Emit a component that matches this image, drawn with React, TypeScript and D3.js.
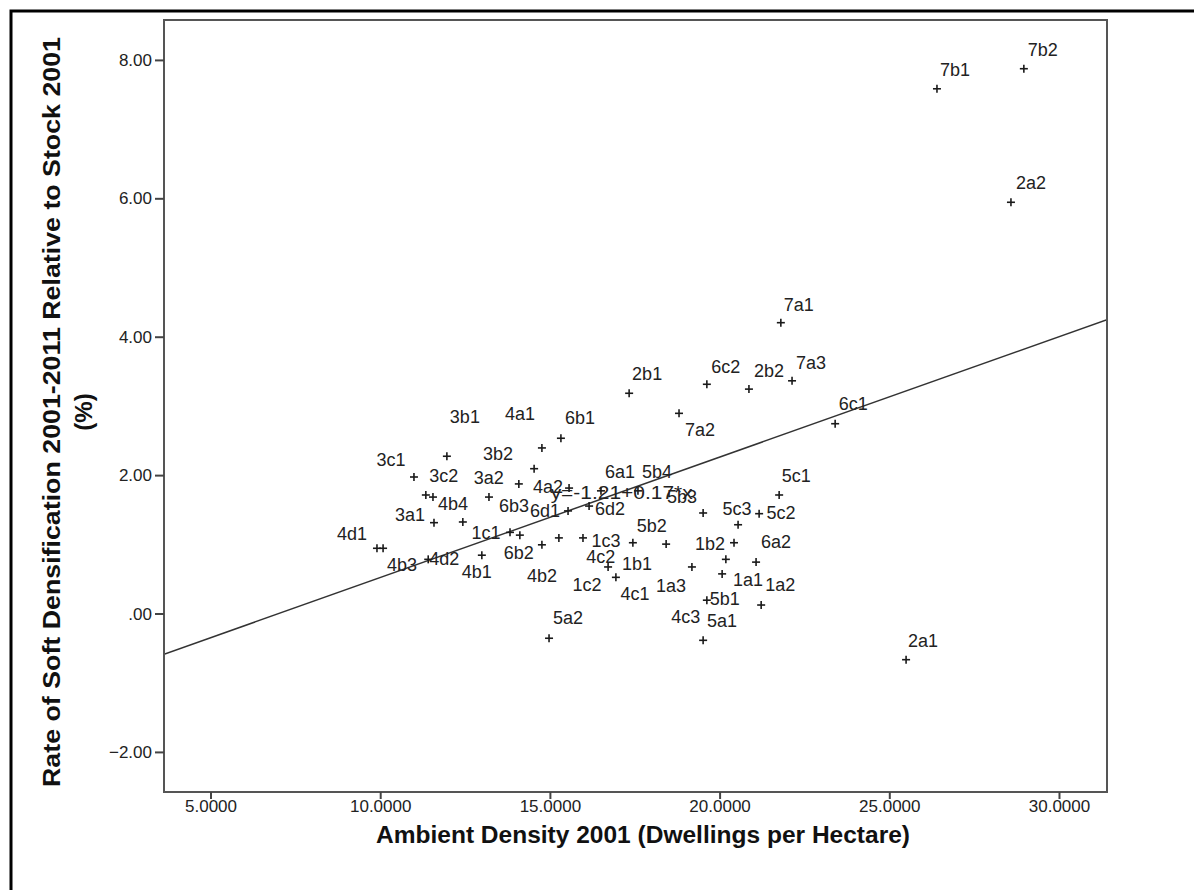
import React from "react";
import * as d3 from "d3";

// ---- data ----
const pointLabels = [
  "7b2", "7b1", "2a2", "7a1", "2b1", "6c2", "2b2", "7a3", "7a2", "6c1",
  "6b1", "4a1", "3b1", "3b2", "3c1", "3a2", "4a2", "3c2", "4b4", "6b3",
  "6d1", "3a1", "", "4d1", "4b3", "1c1", "6b2", "4c2", "4d2", "4b1",
  "4b2", "5a2", "6a1", "5b4", "6d2", "5b3", "5c2", "5c3", "5c1", "1c3",
  "5b2", "1b1", "1b2", "4c3", "6a2", "1a3", "1c2", "4c1", "1a1", "5b1",
  "1a2", "5a1", "2a1",
];
const ambientDensity = [
  28.95, 26.39, 28.57, 21.79, 17.32, 19.61, 20.85, 22.12, 18.79, 23.39,
  15.31, 14.75, 11.95, 14.52, 10.98, 14.07, 15.55, 11.33, 11.54, 13.19,
  15.52, 11.57, 12.42, 9.89, 10.07, 13.81, 14.10, 15.25, 11.40, 12.98,
  14.75, 14.96, 16.49, 17.58, 16.14, 19.50, 21.15, 20.53, 21.74, 15.96,
  17.43, 18.41, 20.41, 20.17, 21.06, 19.17, 16.70, 16.93, 20.06, 19.61,
  21.21, 19.50, 25.48,
];
const softDensification = [
  7.88, 7.59, 5.95, 4.21, 3.19, 3.32, 3.25, 3.37, 2.90, 2.75,
  2.54, 2.40, 2.28, 2.10, 1.98, 1.88, 1.82, 1.72, 1.69, 1.69,
  1.49, 1.32, 1.33, 0.95, 0.95, 1.18, 1.14, 1.10, 0.79, 0.85,
  1.00, -0.35, 1.78, 1.78, 1.56, 1.46, 1.45, 1.29, 1.72, 1.10,
  1.03, 1.01, 1.03, 0.79, 0.75, 0.68, 0.68, 0.53, 0.58, 0.20,
  0.13, -0.38, -0.66,
];
const xTicks = [5, 10, 15, 20, 25, 30];
const yTicks = [-2, 0, 2, 4, 6, 8];
const fitIntercept = -1.21;
const fitSlope = 0.174;
const fitLabel = "y=-1.21+0.17*x";
const xTitle = "Ambient Density 2001 (Dwellings per Hectare)";
const yTitle1 = "Rate of Soft Densification 2001-2011 Relative to Stock 2001";
const yTitle2 = "(%)";

// ---- label layout (pixel offsets of label centre from its point) ----
const labelOffsets: [number, number][] = [
  [19, -19], [18, -19], [20, -19], [18, -18], [18, -19], [19, -17], [20, -18], [19, -18], [21, 17], [18, -20],
  [19, -20], [-22, -34], [18, -39], [-36, -15], [-23, -17], [-30, -6], [-21, -1], [18, -19], [20, 7], [25, 9],
  [-23, 0], [-24, -8], [0, 0], [-25, -14], [19, 17], [-24, 1], [-1, 18], [42, 19], [16, 0], [-5, 17],
  [0, 31], [19, -20], [19, -19], [19, -19], [21, 3], [-21, -16], [22, -1], [-1, -16], [17, -19], [23, 3],
  [19, -17], [-29, 20], [-24, 1], [-40, 58], [20, -20], [-21, 19], [-21, 18], [19, 17], [26, 6], [18, -1],
  [19, -20], [19, -19], [17, -19],
];

const W = 1194;
const H = 890;
const plot = { left: 164, right: 1107, top: 20, bottom: 792 };
const FONT = "'Liberation Sans', Arial, sans-serif";

export default function App() {
  const x = d3.scaleLinear().domain([3.615, 31.4]).range([plot.left, plot.right]);
  const y = d3.scaleLinear().domain([-2.572, 8.584]).range([plot.bottom, plot.top]);
  const [x0, x1] = x.domain();
  const line = d3.line<number>().x((d) => x(d)).y((d) => y(fitIntercept + fitSlope * d));
  const fitPath = line([x0, x1]) || "";
  const cross = 4;

  return (
    <svg
      width={W}
      height={H}
      style={{ position: "absolute", left: 0, top: 0, background: "#fff" }}
      fontFamily={FONT}
    >
      <rect x={0} y={0} width={W} height={H} fill="#fff" />
      {/* outer frame (left + top only, cropped) */}
      <path d={`M11,${H} V11 H${W}`} fill="none" stroke="#000" strokeWidth={3} />

      <defs>
        <clipPath id="plotClip">
          <rect x={plot.left} y={plot.top} width={plot.right - plot.left} height={plot.bottom - plot.top} />
        </clipPath>
      </defs>

      {/* regression line */}
      <path d={fitPath} fill="none" stroke="#333" strokeWidth={1.5} clipPath="url(#plotClip)" />

      {/* points */}
      {ambientDensity.map((dx, i) => {
        const px = x(dx);
        const py = y(softDensification[i]);
        return (
          <g key={"p" + i} stroke="#1a1a1a" strokeWidth={1.6}>
            <line x1={px - cross} x2={px + cross} y1={py} y2={py} />
            <line x1={px} x2={px} y1={py - cross} y2={py + cross} />
          </g>
        );
      })}

      {/* point labels */}
      {ambientDensity.map((dx, i) => {
        if (!pointLabels[i]) return null;
        const px = x(dx) + labelOffsets[i][0];
        const py = y(softDensification[i]) + labelOffsets[i][1];
        return (
          <text
            key={"l" + i}
            x={px}
            y={py}
            textAnchor="middle"
            dominantBaseline="central"
            fontSize={18}
            fill="#222"
          >
            {pointLabels[i]}
          </text>
        );
      })}

      {/* fit label */}
      <text
        x={x(17.1)}
        y={y(1.75)}
        textAnchor="middle"
        dominantBaseline="central"
        fontSize={18}
        fill="#222"
        textLength={142}
        lengthAdjust="spacingAndGlyphs"
      >
        {fitLabel}
      </text>

      {/* plot frame */}
      <rect
        x={plot.left}
        y={plot.top}
        width={plot.right - plot.left}
        height={plot.bottom - plot.top}
        fill="none"
        stroke="#555"
        strokeWidth={2}
      />

      {/* x axis ticks */}
      {xTicks.map((t) => (
        <g key={"xt" + t}>
          <line x1={x(t)} x2={x(t)} y1={plot.bottom} y2={plot.bottom + 7} stroke="#444" strokeWidth={2} />
          <text x={x(t)} y={806} textAnchor="middle" dominantBaseline="central" fontSize={17} fill="#222">
            {d3.format(".4f")(t)}
          </text>
        </g>
      ))}

      {/* y axis ticks */}
      {yTicks.map((t) => (
        <g key={"yt" + t}>
          <line x1={plot.left - 9} x2={plot.left} y1={y(t)} y2={y(t)} stroke="#444" strokeWidth={2} />
          <text x={152} y={y(t)} textAnchor="end" dominantBaseline="central" fontSize={17} fill="#222">
            {t === 0 ? ".00" : d3.format(".2f")(t)}
          </text>
        </g>
      ))}

      {/* axis titles */}
      <text
        x={643}
        y={835}
        textAnchor="middle"
        dominantBaseline="central"
        fontSize={23}
        fontWeight="bold"
        fill="#111"
        textLength={534}
        lengthAdjust="spacingAndGlyphs"
      >
        {xTitle}
      </text>
      <g transform="translate(51,412) rotate(-90)">
        <text
          x={0}
          y={0}
          textAnchor="middle"
          dominantBaseline="central"
          fontSize={24}
          fontWeight="bold"
          fill="#111"
          textLength={750}
          lengthAdjust="spacingAndGlyphs"
        >
          {yTitle1}
        </text>
        <text x={0} y={32} textAnchor="middle" dominantBaseline="central" fontSize={24} fontWeight="bold" fill="#111">
          {yTitle2}
        </text>
      </g>
    </svg>
  );
}
